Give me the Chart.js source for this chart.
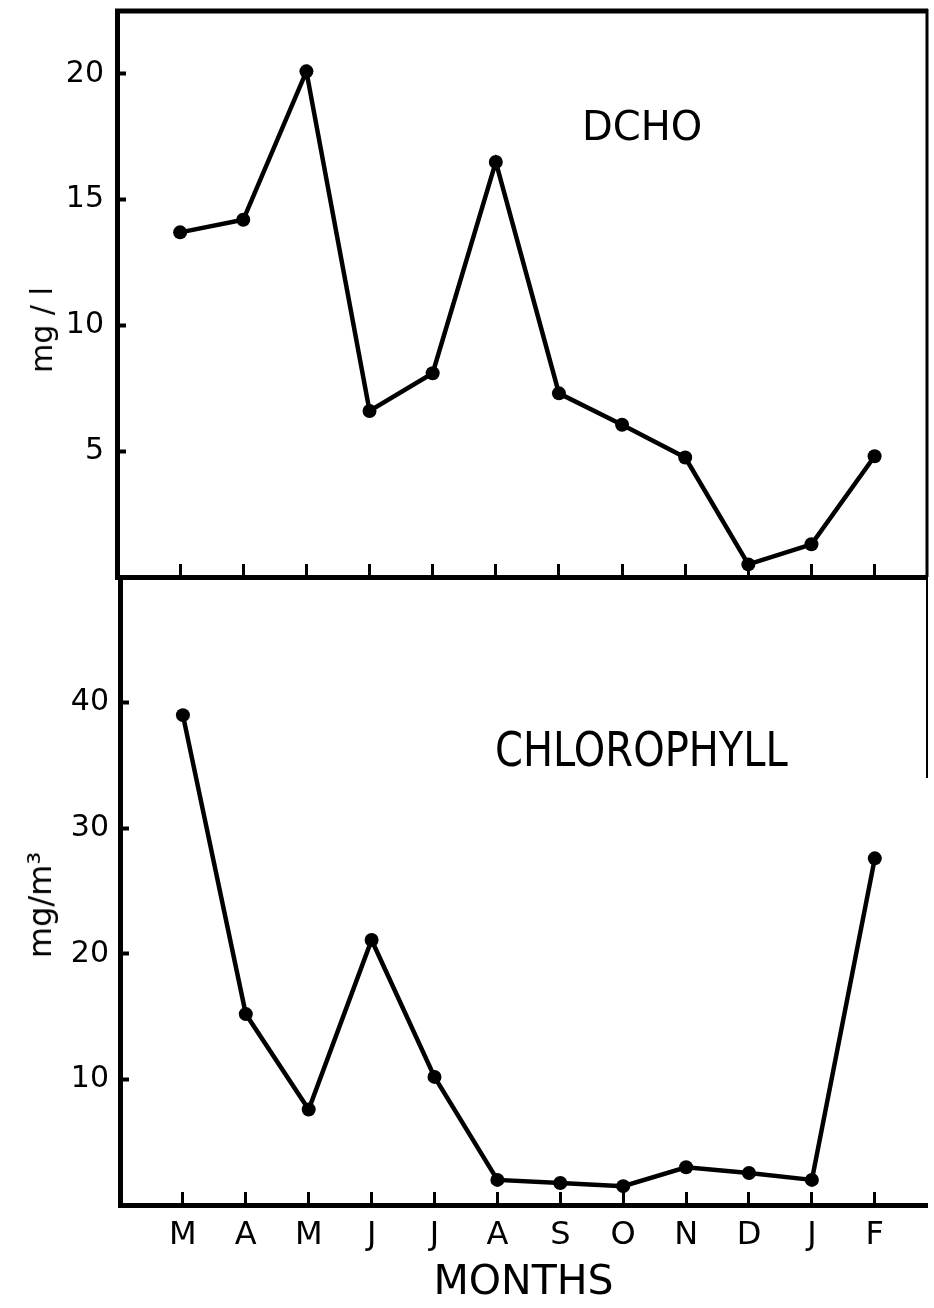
<!DOCTYPE html>
<html>
<head>
<meta charset="utf-8">
<script src="https://cdn.jsdelivr.net/npm/chart.js@4.4.0/dist/chart.umd.min.js"></script>
<style>
  html,body{margin:0;padding:0;background:#fff;}
  #wrap{position:relative;width:934px;height:1308px;overflow:hidden;font-family:'DejaVu Sans',sans-serif;color:#000;}
  #cTop{position:absolute;left:0;top:0;}
  #cBot{position:absolute;left:0;top:560px;}
  .lbl{position:absolute;white-space:nowrap;line-height:1;}
  .ytitle{position:absolute;white-space:nowrap;line-height:1;transform:translate(-50%,-50%) rotate(-90deg);}
</style>
</head>
<body>
<div id="wrap">
  <canvas id="cTop" width="934" height="600"></canvas>
  <canvas id="cBot" width="934" height="748"></canvas>
  <div class="lbl" style="left:582px;top:106px;font-size:40px">DCHO</div>
  <div class="lbl" style="left:495px;top:733px;font-size:40px;transform:scaleY(1.18);transform-origin:left bottom">CHLOROPHYLL</div>
  <div class="ytitle" style="left:42px;top:330px;font-size:30px">mg / l</div>
  <div class="ytitle" style="left:40px;top:905px;font-size:32px">mg/m³</div>
</div>
<script>
// valores (mar -> fev)
const months   = ['M','A','M','J','J','A','S','O','N','D','J','F'];
const dcho     = [13.7, 14.2, 20.1, 6.6, 8.1, 16.5, 7.3, 6.05, 4.75, 0.5, 1.3, 4.8];   // mg/l
const chloro   = [39.0, 15.2, 7.6, 21.1, 10.2, 2.0, 1.75, 1.5, 3.0, 2.55, 2.0, 27.6];  // mg/m3
const yTicksTop = [5, 10, 15, 20];
const yTicksBot = [10, 20, 30, 40];

Chart.defaults.font.family = "'DejaVu Sans', sans-serif";
Chart.defaults.color = '#000';

// moldura (topo / direita) que o Chart.js não desenha sozinho
const framePlugin = {
  id: 'frame',
  afterDraw(chart, args, opts){
    const {ctx, chartArea: a} = chart;
    ctx.save();
    ctx.strokeStyle = '#000';
    if(opts.top){
      ctx.lineWidth = 5;
      ctx.beginPath(); ctx.moveTo(a.left - 2, a.top); ctx.lineTo(a.right + 1, a.top); ctx.stroke();
    }
    if(opts.right){
      const yEnd = opts.rightTo != null ? chart.scales.y.getPixelForValue(opts.rightTo) : a.bottom;
      ctx.lineWidth = opts.rightWidth || 3;
      ctx.beginPath(); ctx.moveTo(a.right, a.top - 2); ctx.lineTo(a.right, yEnd); ctx.stroke();
    }
    ctx.restore();
  }
};

function lineDataset(values){
  return {
    data: values.map((v,i)=>({x:i, y:v})),
    borderColor:'#000', borderWidth:4.5,
    pointRadius:7, pointBackgroundColor:'#000', pointBorderWidth:0,
    tension:0, clip:false
  };
}

function xScale(showLabels){
  return {
    type:'linear', position:'bottom', min:-1, max:11.83,
    afterBuildTicks: s => { s.ticks = months.map((m,i)=>({value:i})); },
    afterFit: s => { s.height = showLabels ? 103 : 23; s.paddingLeft = 0; s.paddingRight = 0; },
    ticks:{ display:showLabels, font:{size:32}, padding:24, maxRotation:0, autoSkip:false,
            callback: v => months[v] },
    grid:{ drawOnChartArea:false, tickLength:-13, tickWidth:3, tickColor:'#000' },
    border:{ color:'#000', width:5 },
    title:{ display:showLabels, text:'MONTHS', font:{size:41}, padding:0 }
  };
}

function yScale(max, tickVals, width, pad){
  return {
    type:'linear', position:'left', min:0, max:max,
    afterBuildTicks: s => { s.ticks = tickVals.map(v=>({value:v})); },
    afterFit: s => { s.width = width; s.paddingTop = 0; s.paddingBottom = 0; },
    ticks:{ font:{size:30}, padding:pad },
    grid:{ drawOnChartArea:false, tickLength:-9, tickWidth:4, tickColor:'#000' },
    border:{ color:'#000', width:5 }
  };
}

const baseOpts = { responsive:false, animation:false, events:[] };

new Chart(document.getElementById('cTop'), {
  type:'line',
  data:{ datasets:[ lineDataset(dcho) ] },
  options:{ ...baseOpts,
    layout:{ padding:{ top:11, right:6, bottom:0, left:0 } },
    scales:{ x:xScale(false), y:yScale(22.5, yTicksTop, 117, 22) },
    plugins:{ legend:{display:false}, tooltip:{enabled:false}, frame:{ top:true, right:true, rightWidth:3 } }
  },
  plugins:[framePlugin]
});

new Chart(document.getElementById('cBot'), {
  type:'line',
  data:{ datasets:[ lineDataset(chloro) ] },
  options:{ ...baseOpts,
    layout:{ padding:{ top:17, right:6, bottom:0, left:0 } },
    scales:{ x:xScale(true), y:yScale(50, yTicksBot, 120, 20) },
    plugins:{ legend:{display:false}, tooltip:{enabled:false}, frame:{ top:false, right:true, rightTo:34, rightWidth:2 } }
  },
  plugins:[framePlugin]
});
</script>
</body>
</html>
